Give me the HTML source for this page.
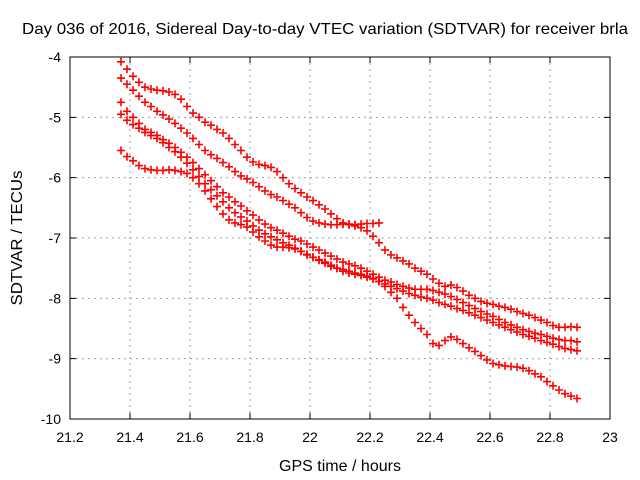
<!DOCTYPE html>
<html><head><meta charset="utf-8"><style>
body{margin:0;background:#fff}
svg{display:block;font-family:"Liberation Sans",sans-serif}
</style></head><body>
<svg id="chart" width="640" height="480">
<rect width="640" height="480" fill="#fff"/>
<g id="grid"></g>
<g id="marks"></g>
<rect x="70" y="57" width="540" height="362" fill="none" stroke="#000" stroke-width="1"/>
<g id="ticks"></g>
<text x="325" y="34" text-anchor="middle" font-size="16" textLength="606" lengthAdjust="spacingAndGlyphs">Day 036 of 2016, Sidereal Day-to-day VTEC variation (SDTVAR) for receiver brla</text>
<text x="340" y="471" text-anchor="middle" font-size="16" textLength="122" lengthAdjust="spacingAndGlyphs">GPS time / hours</text>
<text x="22" y="238" text-anchor="middle" font-size="16" textLength="135" lengthAdjust="spacingAndGlyphs" transform="rotate(-90 22 238)">SDTVAR / TECUs</text>
</svg>
<script>
const xTicks=[21.2,21.4,21.6,21.8,22,22.2,22.4,22.6,22.8,23];
const xTickLabels=["21.2","21.4","21.6","21.8","22","22.2","22.4","22.6","22.8","23"];
const yTicks=[-4,-5,-6,-7,-8,-9,-10];
const yTickLabels=["-4","-5","-6","-7","-8","-9","-10"];
const times=[21.37,21.39,21.41,21.43,21.45,21.47,21.49,21.51,21.53,21.55,21.57,21.59,21.61,21.63,21.65,21.67,21.69,21.71,21.73,21.75,21.77,21.79,21.81,21.83,21.85,21.87,21.89,21.91,21.93,21.95,21.97,21.99,22.01,22.03,22.05,22.07,22.09,22.11,22.13,22.15,22.17,22.19,22.21,22.23,22.25,22.27,22.29,22.31,22.33,22.35,22.37,22.39,22.41,22.43,22.45,22.47,22.49,22.51,22.53,22.55,22.57,22.59,22.61,22.63,22.65,22.67,22.69,22.71,22.73,22.75,22.77,22.79,22.81,22.83,22.85,22.87,22.89];
const series1=[-4.08,-4.2,-4.32,-4.42,-4.5,-4.53,-4.55,-4.56,-4.58,-4.62,-4.7,-4.82,-4.93,-5.0,-5.08,-5.13,-5.2,-5.26,-5.35,-5.45,-5.55,-5.66,-5.74,-5.78,-5.8,-5.83,-5.9,-6.0,-6.1,-6.18,-6.25,-6.32,-6.38,-6.45,-6.52,-6.6,-6.68,-6.75,-6.78,-6.8,-6.83,-6.88,-6.97,-7.08,-7.2,-7.28,-7.33,-7.38,-7.43,-7.5,-7.55,-7.6,-7.68,-7.75,-7.8,-7.78,-7.82,-7.88,-7.95,-8.0,-8.05,-8.08,-8.1,-8.13,-8.15,-8.18,-8.22,-8.25,-8.28,-8.32,-8.36,-8.4,-8.45,-8.48,-8.48,-8.47,-8.48];
const series2=[-4.35,-4.45,-4.55,-4.65,-4.75,-4.82,-4.9,-4.96,-5.03,-5.1,-5.18,-5.26,-5.35,-5.45,-5.55,-5.62,-5.68,-5.75,-5.82,-5.9,-5.97,-6.02,-6.08,-6.15,-6.22,-6.28,-6.32,-6.38,-6.44,-6.5,-6.58,-6.66,-6.72,-6.75,-6.77,-6.78,-6.78,-6.77,-6.77,-6.78,-6.77,-6.76,-6.76,-6.75];
const series3=[-4.75,-4.9,-5.0,-5.1,-5.2,-5.25,-5.3,-5.37,-5.43,-5.5,-5.58,-5.66,-5.75,-5.85,-5.95,-6.05,-6.15,-6.25,-6.32,-6.4,-6.47,-6.55,-6.62,-6.7,-6.77,-6.83,-6.87,-6.92,-6.97,-7.02,-7.05,-7.1,-7.15,-7.2,-7.25,-7.3,-7.35,-7.4,-7.43,-7.46,-7.5,-7.55,-7.6,-7.65,-7.7,-7.73,-7.77,-7.8,-7.83,-7.85,-7.85,-7.85,-7.87,-7.9,-7.93,-7.97,-8.02,-8.07,-8.12,-8.17,-8.22,-8.26,-8.3,-8.35,-8.4,-8.44,-8.48,-8.52,-8.55,-8.58,-8.6,-8.63,-8.66,-8.68,-8.7,-8.7,-8.72];
const series4=[-4.95,-5.05,-5.12,-5.18,-5.25,-5.3,-5.35,-5.42,-5.5,-5.57,-5.66,-5.76,-5.87,-5.98,-6.1,-6.2,-6.3,-6.4,-6.5,-6.58,-6.65,-6.72,-6.8,-6.87,-6.93,-6.98,-7.03,-7.08,-7.12,-7.17,-7.22,-7.27,-7.32,-7.37,-7.42,-7.47,-7.5,-7.52,-7.55,-7.58,-7.6,-7.63,-7.67,-7.72,-7.76,-7.8,-7.84,-7.88,-7.92,-7.95,-7.98,-8.0,-8.03,-8.07,-8.1,-8.13,-8.17,-8.2,-8.24,-8.28,-8.32,-8.36,-8.4,-8.44,-8.48,-8.52,-8.56,-8.6,-8.63,-8.66,-8.7,-8.73,-8.76,-8.8,-8.83,-8.85,-8.87];
const series5=[-5.55,-5.65,-5.72,-5.8,-5.85,-5.87,-5.88,-5.88,-5.87,-5.88,-5.9,-5.93,-6.0,-6.1,-6.22,-6.35,-6.48,-6.6,-6.7,-6.75,-6.78,-6.82,-6.9,-6.98,-7.05,-7.12,-7.15,-7.15,-7.16,-7.18,-7.22,-7.28,-7.32,-7.36,-7.4,-7.45,-7.5,-7.55,-7.58,-7.6,-7.62,-7.65,-7.68,-7.72,-7.8,-7.9,-8.0,-8.15,-8.28,-8.4,-8.5,-8.6,-8.75,-8.78,-8.7,-8.64,-8.68,-8.75,-8.82,-8.88,-8.95,-9.02,-9.08,-9.1,-9.12,-9.13,-9.14,-9.16,-9.2,-9.25,-9.3,-9.38,-9.45,-9.52,-9.58,-9.62,-9.66];
const allSeries=[series1,series2,series3,series4,series5];

const NS="http://www.w3.org/2000/svg";
const L=70,R=610,T=57,B=419;
function xs(v){return L+(v-21.2)/(23-21.2)*(R-L);}
function ys(v){return T+(-4-v)/6*(B-T);}
function mk(tag,attrs,parent){const e=document.createElementNS(NS,tag);for(const k in attrs)e.setAttribute(k,attrs[k]);parent.appendChild(e);return e;}
const grid=document.getElementById('grid'),ticks=document.getElementById('ticks'),marks=document.getElementById('marks');
xTicks.forEach((t,i)=>{
  const x=xs(t);
  if(i>0&&i<xTicks.length-1){
    const g=mk('line',{x1:x,x2:x,y1:T,y2:B,stroke:'#a0a0a0','stroke-dasharray':'2,4'},grid);
    
    
  }
  const a=mk('path',{d:`M${x},${B}v-6M${x},${T}v6`,stroke:'#000'},ticks);
  
  
  const lb=mk('text',{x:x,y:B+23,'text-anchor':'middle','font-size':14},ticks);
  lb.textContent=xTickLabels[i];
  
  
});
yTicks.forEach((t,i)=>{
  const y=ys(t);
  if(i>0&&i<yTicks.length-1){
    const g=mk('line',{x1:L,x2:R,y1:y,y2:y,stroke:'#a0a0a0','stroke-dasharray':'2,4'},grid);
    
    
  }
  const a=mk('path',{d:`M${L},${y}h6M${R},${y}h-6`,stroke:'#000'},ticks);
  
  
  const lb=mk('text',{x:L-9,y:y+5,'text-anchor':'end','font-size':14},ticks);
  lb.textContent=yTickLabels[i];
  
  
});
allSeries.forEach((s,si)=>{
  let d='';
  const n=Math.min(s.length,times.length);
  for(let i=0;i<n;i++){
    const x=xs(times[i]),y=ys(s[i]);
    d+=`M${(x-4).toFixed(1)},${y.toFixed(1)}h8M${x.toFixed(1)},${(y-4).toFixed(1)}v8`;
  }
  const p=mk('path',{d:d,stroke:'#ff0000','stroke-width':1.6,fill:'none'},marks);
  
  
});
</script>
</body></html>
